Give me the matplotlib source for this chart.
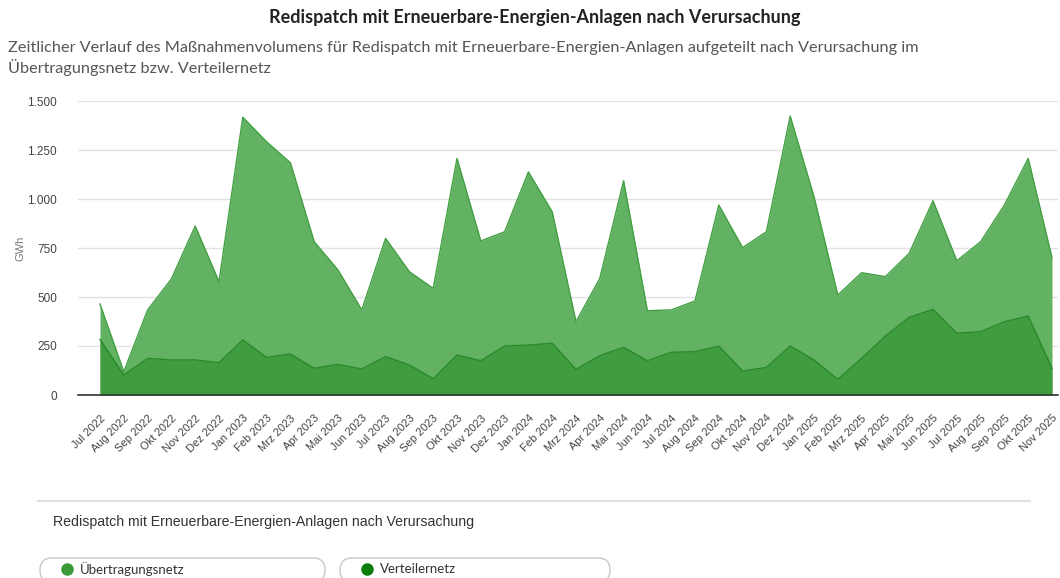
import numpy as np
import matplotlib.pyplot as plt
from matplotlib.patches import FancyBboxPatch

months = ["Jul 2022", "Aug 2022", "Sep 2022", "Okt 2022", "Nov 2022", "Dez 2022",
          "Jan 2023", "Feb 2023", "Mrz 2023", "Apr 2023", "Mai 2023", "Jun 2023",
          "Jul 2023", "Aug 2023", "Sep 2023", "Okt 2023", "Nov 2023", "Dez 2023",
          "Jan 2024", "Feb 2024", "Mrz 2024", "Apr 2024", "Mai 2024", "Jun 2024",
          "Jul 2024", "Aug 2024", "Sep 2024", "Okt 2024", "Nov 2024", "Dez 2024",
          "Jan 2025", "Feb 2025", "Mrz 2025", "Apr 2025", "Mai 2025", "Jun 2025",
          "Jul 2025", "Aug 2025", "Sep 2025", "Okt 2025", "Nov 2025"]

# GWh
uebertragungsnetz = [464, 119, 434, 592, 862, 578, 1417, 1292, 1185, 782, 638, 434,
                     799, 629, 544, 1207, 786, 833, 1138, 935, 374, 595, 1093, 430,
                     434, 480, 969, 752, 833, 1423, 1012, 510, 624, 604, 723, 991,
                     685, 782, 969, 1207, 700]
verteilernetz = [284, 102, 187, 179, 179, 165, 281, 192, 209, 136, 156, 133,
                 196, 153, 83, 204, 175, 250, 255, 264, 131, 201, 243, 175,
                 218, 221, 250, 122, 141, 250, 179, 80, 187, 301, 396, 437,
                 315, 323, 374, 403, 136]

yticks = [0, 250, 500, 750, 1000, 1250, 1500]
ytick_labels = ["0", "250", "500", "750", "1.000", "1.250", "1.500"]

W, H = 1060, 578
fig = plt.figure(figsize=(W / 100, H / 100), dpi=100)

# overlay in pixel coords for header / legend block
ov = fig.add_axes([0, 0, 1, 1], zorder=-1)
ov.set_xlim(0, W)
ov.set_ylim(H, 0)
ov.axis("off")

# plot area in pixel coords
left, right, top, bottom = 78, 1058, 101, 395
ax = fig.add_axes([left / W, 1 - bottom / H, (right - left) / W, (bottom - top) / H])

x = np.arange(len(months))
light = "#63b163"
dark = "#3f9c3f"
ax.fill_between(x, 0, uebertragungsnetz, color=light, lw=0, zorder=2)
ax.plot(x, uebertragungsnetz, color="#43a043", lw=1, zorder=3)
ax.fill_between(x, 0, verteilernetz, color=dark, lw=0, zorder=4)
ax.plot(x, verteilernetz, color="#2a8a2a", lw=1, zorder=5)

step = (1052 - 100) / 40
ax.set_xlim(-(100 - left) / step, 40 + (right - 1052) / step)
ax.set_ylim(0, 1500)

ax.set_yticks(yticks)
ax.set_yticklabels(ytick_labels, fontsize=8.5, color="#444444", family="Liberation Sans")
ax.grid(axis="y", color="#e2e2e2", lw=1, zorder=0)
ax.set_axisbelow(True)
ax.tick_params(axis="y", length=0, pad=15)

ax.set_xticks(x)
ax.set_xticklabels(months, rotation=45, ha="right", va="top", rotation_mode="anchor",
                   fontsize=8, color="#444444", family="Liberation Sans")
ax.tick_params(axis="x", length=0, pad=13)

for s in ["top", "right", "left"]:
    ax.spines[s].set_visible(False)
ax.spines["bottom"].set_color("#333333")
ax.spines["bottom"].set_linewidth(1.2)
ax.spines["bottom"].set_zorder(6)

ov.text(20, 248, "GWh", rotation=90, ha="center", va="center",
        fontsize=8, color="#777777", family="Liberation Sans")

ov.text(535, 17, "Redispatch mit Erneuerbare-Energien-Anlagen nach Verursachung",
        ha="center", va="center", fontsize=13, fontweight="bold", color="#222222", family="Lato")
ov.text(8, 48,
        "Zeitlicher Verlauf des Maßnahmenvolumens für Redispatch mit Erneuerbare-Energien-Anlagen aufgeteilt nach Verursachung im",
        ha="left", va="center", fontsize=11.7, color="#555555", family="Lato")
ov.text(8, 68, "Übertragungsnetz bzw. Verteilernetz",
        ha="left", va="center", fontsize=11.7, color="#555555", family="Lato")

# bottom legend block
ov.plot([38, 1030], [501, 501], color="#e0e0e0", lw=1.5)
ov.text(53, 522, "Redispatch mit Erneuerbare-Energien-Anlagen nach Verursachung",
        ha="left", va="center", fontsize=10.2, color="#333333", family="Liberation Sans")

legend_items = [("Übertragungsnetz", "#3a9a3a", 40, 325), ("Verteilernetz", "#0b7d0b", 340, 610)]
for label, col, x0, x1 in legend_items:
    pill = FancyBboxPatch((x0, 558), x1 - x0, 24,
                          boxstyle="round,pad=0,rounding_size=12",
                          fc="white", ec="#c8c8c8", lw=1, clip_on=False)
    ov.add_patch(pill)
    ov.plot([x0 + 27], [569], marker="o", ms=8, color=col, lw=0)
    ov.text(x0 + 40, 569, label, ha="left", va="center",
            fontsize=9.5, color="#333333", family="Lato")

fig.savefig("out.png", dpi=100)
